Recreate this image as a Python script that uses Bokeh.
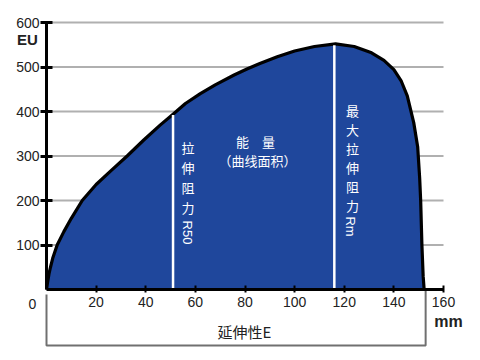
from bokeh.plotting import figure
from bokeh.models import Range1d, LinearAxis, FixedTicker
from bokeh.core.properties import value
from bokeh.embed import file_html
from bokeh.resources import INLINE
import math

# ---- data ----
elong = [0, 0.4, 1, 1.6, 2.5, 4.3, 7, 10, 14.4, 20, 25.8, 32.5, 39.2, 45.9, 51, 56,
         62, 68, 75.6, 81, 86, 93, 100, 108, 116.5, 124, 131, 136, 140, 143, 145.4,
         148, 149.6, 150.4, 150.8, 151.3, 151.8, 152.2]
force = [0, 15, 35, 50, 70, 100, 130, 160, 200, 236, 266, 300, 336, 370, 394, 418,
         440, 460, 482, 496, 508, 523, 536, 546, 552, 546, 532, 515, 494, 468, 435,
         375, 320, 250, 200, 100, 30, 0]
x_ticks = [20, 40, 60, 80, 100, 120, 140, 160]
y_ticks = [100, 200, 300, 400, 500, 600]
marker_x = [51, 116]          # R50 and Rm
marker_top = [392, 549]
elong_total = 152.8

# ---- page-pixel helpers for layout of annotations ----
X0, Y0 = 46.0, 289.0
SX = 397.0 / 160.0
SY = 267.0 / 600.0
def px(u):
    return (u - X0) / SX
def py(v):
    return (Y0 - v) / SY

W, H = 472, 352
p = figure(width=W, height=H,
           x_range=Range1d(px(0), px(W)), y_range=Range1d(py(H), py(0)),
           x_axis_type=None, y_axis_type=None,
           toolbar_location=None, output_backend="svg",
           min_border=0, outline_line_color=None)
p.background_fill_color = "white"

# gridlines
p.segment(x0=[0] * len(y_ticks), y0=y_ticks, x1=[160] * len(y_ticks), y1=y_ticks,
          line_color="#b0b0b0", line_width=2)

# filled area and outline
p.varea(x=elong, y1=[0] * len(elong), y2=force, fill_color="#1f479c")
p.line(elong, force, line_color="black", line_width=3.2, line_join="round")

# white marker lines
p.segment(x0=marker_x, y0=[0, 0], x1=marker_x, y1=marker_top,
          line_color="white", line_width=2.5)

# axes
tick_font = value("Liberation Sans")
yaxis = LinearAxis(fixed_location=0, ticker=FixedTicker(ticks=y_ticks), bounds=(0, 600))
yaxis.axis_line_width = 3
yaxis.axis_line_color = "black"
yaxis.major_tick_in = 6
yaxis.major_tick_out = 6
yaxis.major_tick_line_width = 3
yaxis.major_tick_line_color = "black"
yaxis.minor_tick_line_color = None
yaxis.major_label_standoff = 1
yaxis.major_label_text_font = "Liberation Sans"
yaxis.major_label_text_font_size = "14px"
yaxis.major_label_text_color = "#222222"
p.add_layout(yaxis, "left")

xaxis = LinearAxis(fixed_location=0, ticker=FixedTicker(ticks=x_ticks), bounds=(0, 160))
xaxis.axis_line_width = 3
xaxis.axis_line_color = "black"
xaxis.major_tick_in = 4
xaxis.major_tick_out = 3
xaxis.major_tick_line_width = 2
xaxis.major_tick_line_color = "black"
xaxis.minor_tick_line_color = None
xaxis.major_label_standoff = 4
xaxis.major_label_text_font = "Liberation Sans"
xaxis.major_label_text_font_size = "14px"
xaxis.major_label_text_color = "#222222"
p.add_layout(xaxis, "below")

# origin label
p.text(x=[px(32)], y=[py(303)], text=["0"], text_font=tick_font, text_font_size="14px",
       text_color="#222222", text_align="center", text_baseline="middle")

# unit labels
p.text(x=[px(27)], y=[py(39)], text=["EU"], text_font=tick_font, text_font_size="15px",
       text_font_style="bold", text_color="#222222", text_align="center", text_baseline="middle")
p.text(x=[px(448)], y=[py(321)], text=["mm"], text_font=tick_font, text_font_size="16px",
       text_font_style="bold", text_color="#222222", text_align="center", text_baseline="middle")

# bracket for elongation
p.line(x=[0, 0, elong_total, elong_total], y=[py(294), py(345), py(345), py(290)],
       line_color="#707070", line_width=2)
cjk = value("Noto Sans CJK SC")
p.text(x=[px(244)], y=[py(331)], text=["延伸性E"], text_font=cjk, text_font_size="15px",
       text_color="#222222", text_align="center", text_baseline="middle")

# energy label
p.text(x=[px(255)], y=[py(141)], text=["能　量"], text_font=cjk, text_font_size="13px",
       text_color="white", text_align="center", text_baseline="middle")
p.text(x=[px(257)], y=[py(160)], text=["（曲线面积）"], text_font=cjk, text_font_size="13px",
       text_color="white", text_align="center", text_baseline="middle")

# vertical labels (stacked characters + rotated latin part)
r50_chars = list("拉伸阻力")
p.text(x=[px(187.5)] * len(r50_chars), y=[py(147 + 20.0 * i) for i in range(len(r50_chars))],
       text=r50_chars, text_font=cjk, text_font_size="13px", text_color="white",
       text_align="center", text_baseline="middle")
p.text(x=[px(187)], y=[py(232)], text=["R50"], text_font=tick_font, text_font_size="13px",
       text_color="white", text_align="center", text_baseline="middle", angle=-math.pi / 2)

rm_chars = list("最大拉伸阻力")
p.text(x=[px(352)] * len(rm_chars), y=[py(110 + 19.0 * i) for i in range(len(rm_chars))],
       text=rm_chars, text_font=cjk, text_font_size="13px", text_color="white",
       text_align="center", text_baseline="middle")
p.text(x=[px(350)], y=[py(226)], text=["Rm"], text_font=tick_font, text_font_size="13px",
       text_color="white", text_align="center", text_baseline="middle", angle=-math.pi / 2)

open("out.html", "w").write(file_html(p, INLINE))
